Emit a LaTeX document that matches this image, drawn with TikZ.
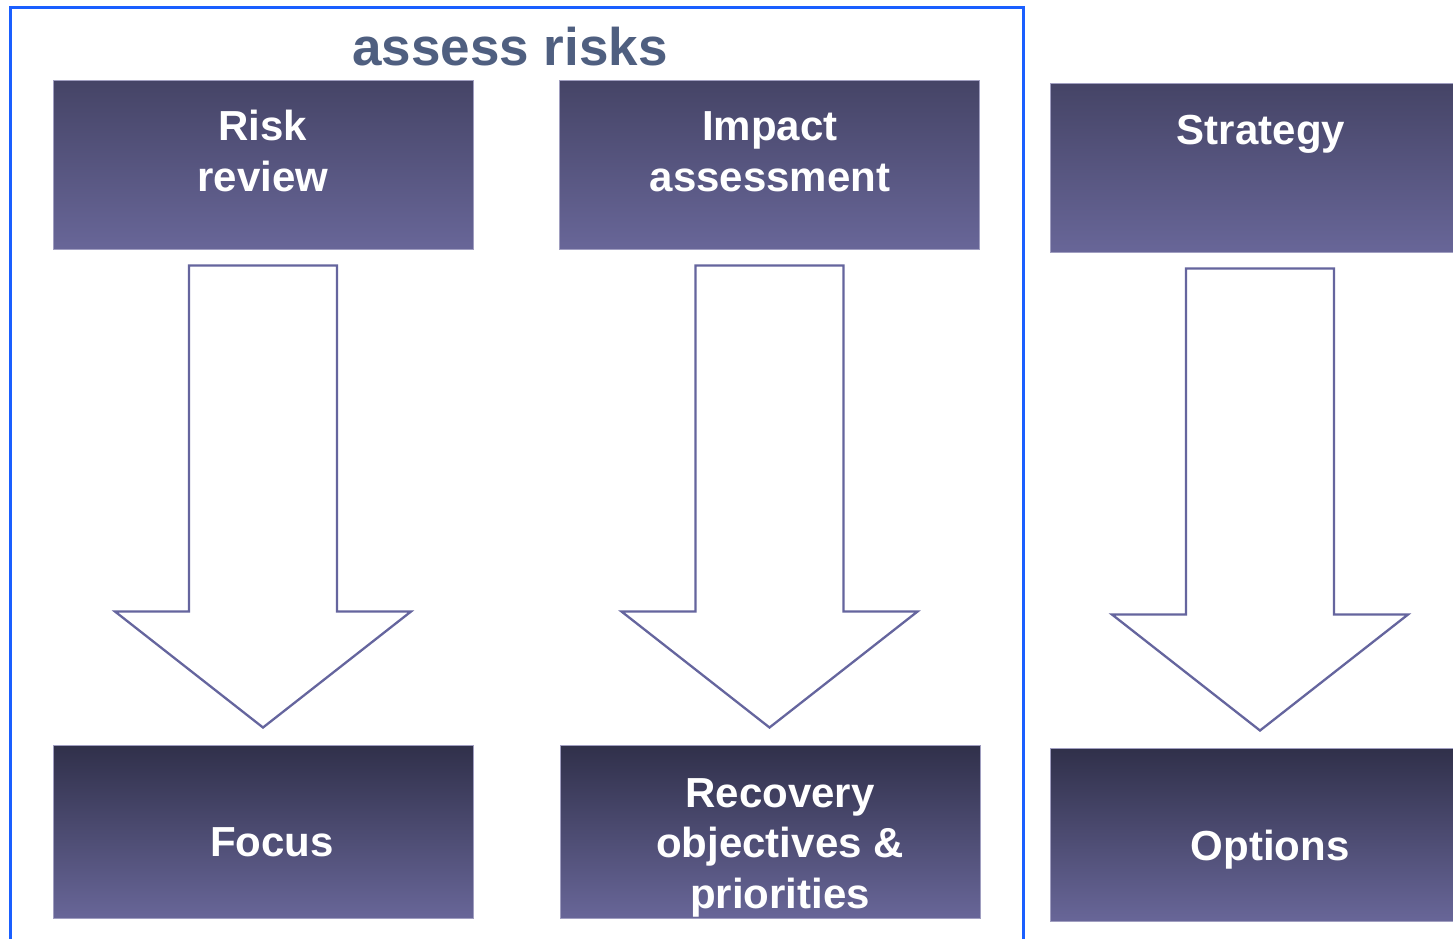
\documentclass[tikz,border=0pt]{standalone}
\usepackage{fontspec}
\setmainfont{Liberation Sans}
\usetikzlibrary{calc}
\definecolor{framecol}{HTML}{1A5FFF}
\definecolor{titlecol}{HTML}{4F5F80}
\definecolor{boxtop}{HTML}{454466}
\definecolor{boxdark}{HTML}{30304A}
\definecolor{boxbot}{HTML}{686698}
\definecolor{boxedge}{HTML}{A09EC0}
\definecolor{arrowcol}{HTML}{65659E}
\tikzset{
  boxbase/.style={rectangle, draw=boxedge, line width=1pt, inner sep=0pt},
  topbox/.style={boxbase, top color=boxtop, bottom color=boxbot, minimum width=420pt, minimum height=169pt},
  botbox/.style={boxbase, top color=boxdark, bottom color=boxbot, minimum width=420pt, minimum height=173pt},
  boxtext/.style={text=white, inner sep=0pt, align=center, anchor=base,
    font=\bfseries\fontsize{42}{50.5}\selectfont},
  titletext/.style={text=titlecol, inner sep=0pt, anchor=base,
    font=\bfseries\fontsize{53}{60}\selectfont},
  arrowline/.style={draw=arrowcol, line width=2.3pt, line join=miter, fill=white},
  frameline/.style={draw=framecol, line width=3.5pt},
  blockarrow/.pic={
    \path[arrowline] (-74,0) -- (74,0) -- (74,346) -- (148,346) -- (0,462)
      -- (-148,346) -- (-74,346) -- cycle;
  }
}
\begin{document}
\begin{tikzpicture}[x=1pt,y=-1pt]
\clip (0,0) rectangle (1453,938);
\fill[white] (0,0) rectangle (1453,938);
% frame around the assessment group
\coordinate (fbl) at (10.5,950);
\coordinate (ftl) at (10.5,7.5);
\coordinate (ftr) at (1023.5,7.5);
\coordinate (fbr) at (1023.5,950);
\draw[frameline] (fbl) -- (ftl) -- (ftr) -- (fbr);
\node[titletext] (title) at (510,65) {assess risks};
% top boxes
\node[topbox] (risk) at (263,164.5) {};
\node[topbox] (impact) at (769.5,164.5) {};
\node[topbox] (strategy) at (1260,167.5) {};
% bottom boxes
\node[botbox] (focus) at (263,831.5) {};
\node[botbox] (recovery) at (770,831.5) {};
\node[botbox] (options) at (1260,834.5) {};
% texts (anchor base = baseline of the last line)
\node[boxtext] (risktxt) at (263,191) {Risk\\review};
\node[boxtext] (impacttxt) at (770,191) {Impact\\assessment};
\node[boxtext] (strategytxt) at (1261,144) {Strategy};
\node[boxtext] (focustxt) at (272,856) {Focus};
\node[boxtext] (recoverytxt) at (780,908) {Recovery\\objectives \&\\priorities};
\node[boxtext] (optionstxt) at (1270,860) {Options};
% block arrows
\pic (a1) at ($(risk.south)+(0,16)$) {blockarrow};
\pic (a2) at ($(impact.south)+(0,16)$) {blockarrow};
\pic (a3) at ($(strategy.south)+(0,16)$) {blockarrow};
\end{tikzpicture}
\end{document}
